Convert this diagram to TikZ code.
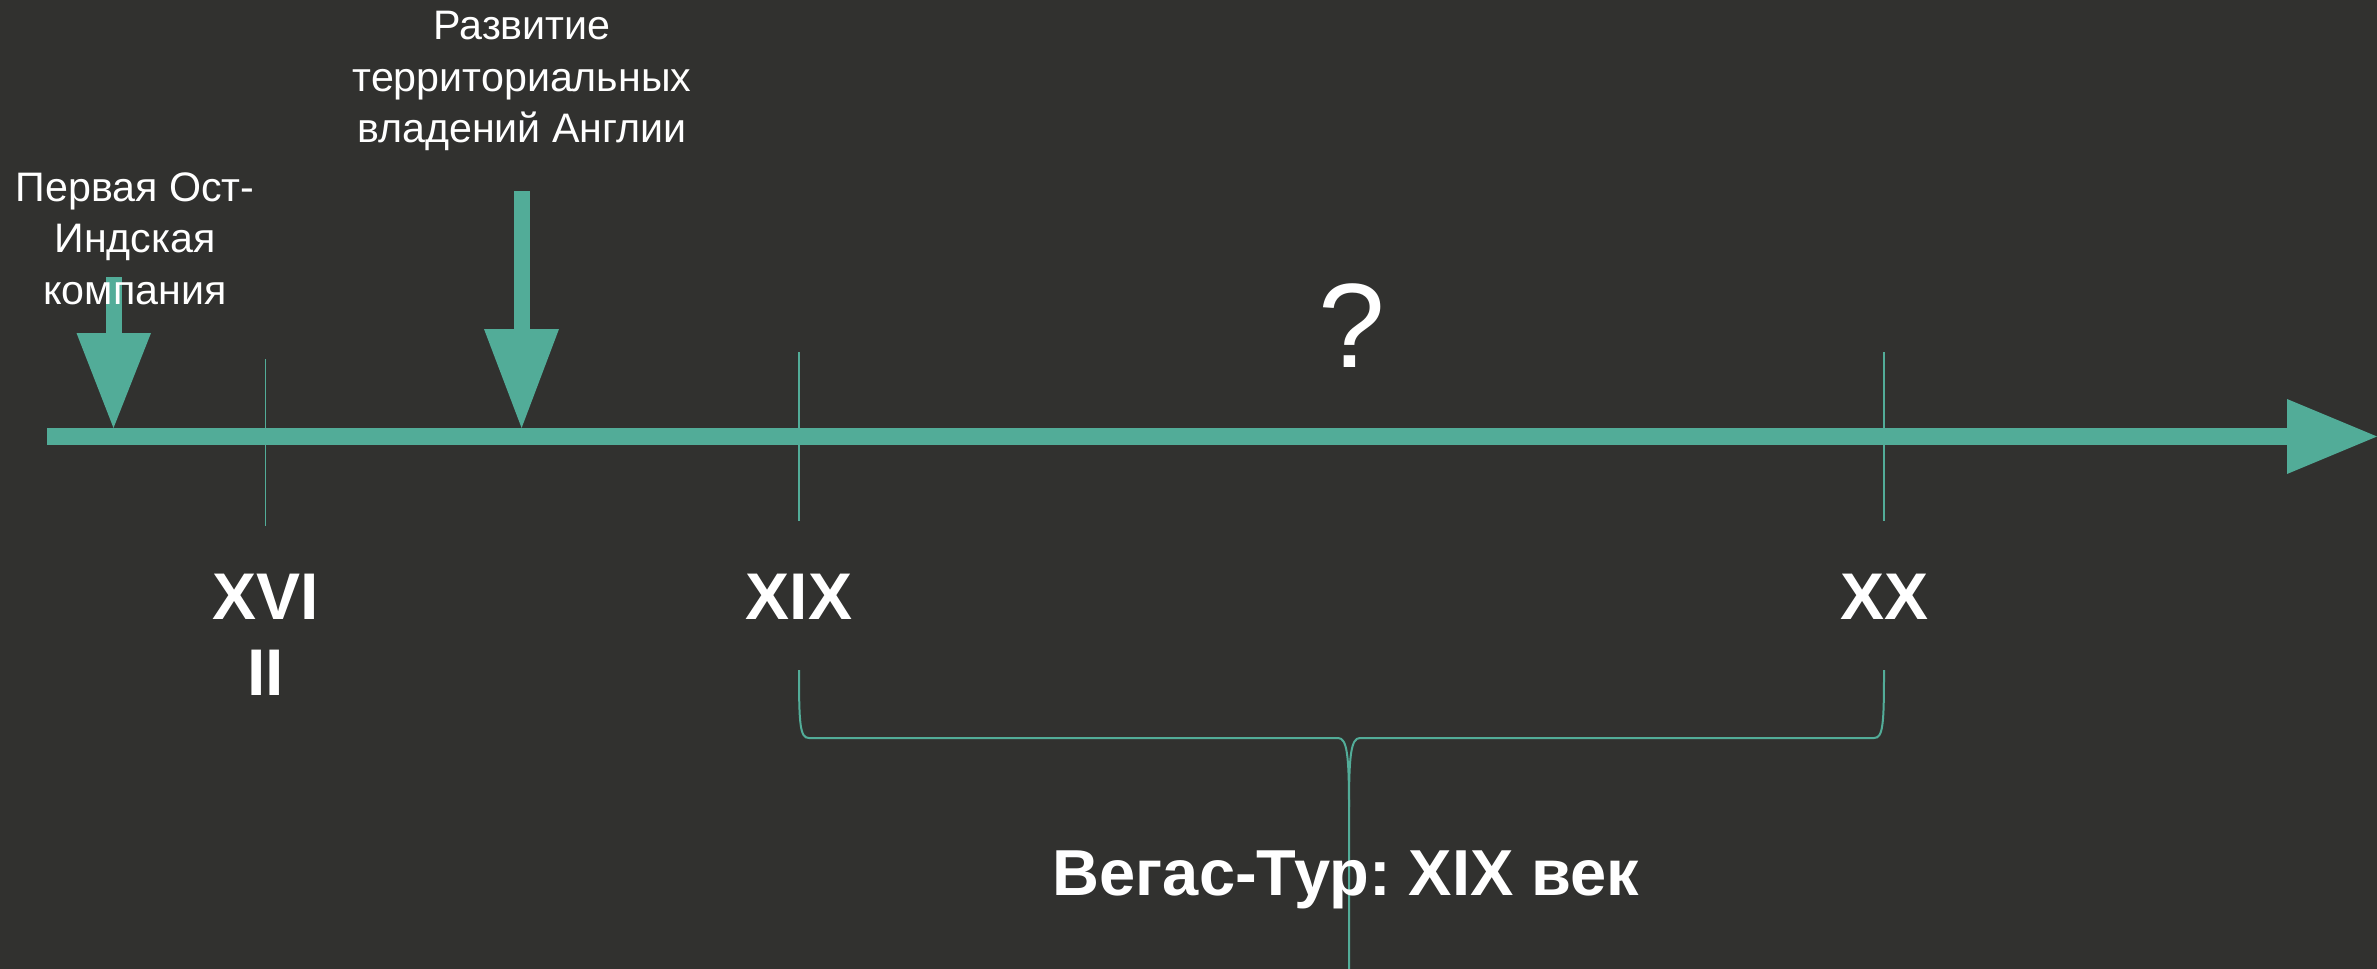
\documentclass[tikz,border=0pt]{standalone}
\usepackage{fontspec}
\setmainfont{Liberation Sans}
\frenchspacing
\definecolor{bgc}{RGB}{49,49,47}
\definecolor{teal}{RGB}{82,172,152}
\begin{document}
\begin{tikzpicture}[x=1pt,y=-1pt,
  lbl/.style={text=white,inner sep=0pt,align=center,anchor=base,font=\fontsize{41.2}{51.5}\selectfont},
  cent/.style={text=white,inner sep=0pt,align=center,anchor=base,font=\fontsize{66}{76.5}\selectfont\bfseries},
  tick/.style={draw=teal,line width=1.8pt},
  brace/.style={draw=teal,line width=2pt}]
\fill[bgc] (0,0) rectangle (2377,969);
\useasboundingbox (0,0) rectangle (2377,969);
% main axis
\fill[teal] (47,428) rectangle (2287,444.5);
\fill[teal] (2287,399) -- (2377,436.5) -- (2287,474) -- cycle;
% ticks
\coordinate (t1a) at (265.5,359); \coordinate (t1b) at (265.5,526);
\coordinate (t2a) at (799,352); \coordinate (t2b) at (799,521);
\coordinate (t3a) at (1884,352); \coordinate (t3b) at (1884,521);
\draw[tick] (t1a) -- (t1b);
\draw[tick] (t2a) -- (t2b);
\draw[tick] (t3a) -- (t3b);
% down arrows
\fill[teal] (105.6,277) rectangle (121.7,334);
\fill[teal] (76.5,333) -- (151,333) -- (113.5,428) -- cycle;
\fill[teal] (513.6,191) rectangle (529.7,330);
\fill[teal] (484,329) -- (559,329) -- (521.6,428) -- cycle;
% labels (base anchor = last line's baseline)
\node[lbl] (ost) at (135,304) {Первая Ост-\\Индская\\компания};
\node[lbl] (razv) at (522,142.7) {Развитие\\территориальных\\владений Англии};
\node[text=white,inner sep=0pt,anchor=base,font=\fontsize{120}{130}\selectfont] (q) at (1352,367) {?};
\node[cent] (c17) at (265.5,695.7) {XVI\\II};
\node[cent] (c19) at (799,619) {XIX};
\node[cent] (c20) at (1884,619) {XX};
% brace
\coordinate (bl) at (799,670);
\coordinate (br) at (1884,670);
\coordinate (bm) at (1349,807);
\coordinate (bend) at (1349,969);
\draw[brace] (bl) .. controls (799,725) and (800,738) .. (809,738) -- (1338,738) .. controls (1347,738) and (1349,755) .. (bm) -- (bend);
\draw[brace] (bm) .. controls (1349,755) and (1351,738) .. (1360,738) -- (1874,738) .. controls (1883,738) and (1884,725) .. (br);
\node[cent,font=\fontsize{65}{76.5}\selectfont\bfseries] (tour) at (1346,895) {Вегас-Тур: XIX век};
\end{tikzpicture}
\end{document}
